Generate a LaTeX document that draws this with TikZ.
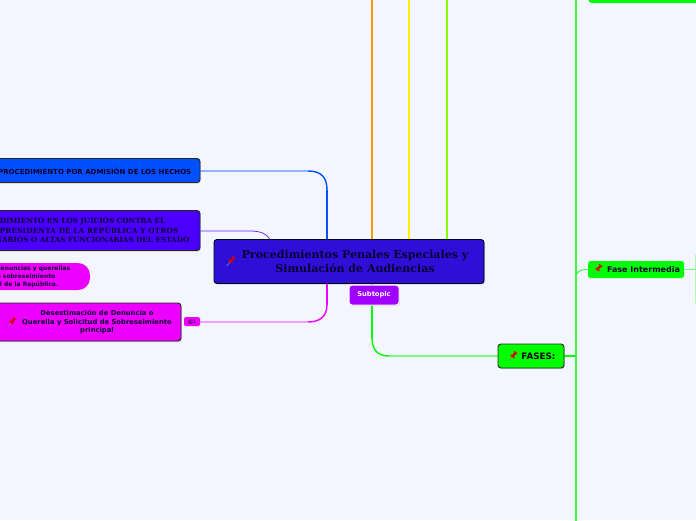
\documentclass[tikz,border=0pt]{standalone}
\usepackage{fontspec}
\setmainfont{DejaVu Serif}
\newfontfamily\vb{DejaVu Sans}
\usetikzlibrary{shadows,backgrounds}
\definecolor{bgc}{HTML}{F3F6FF}
\definecolor{mainc}{HTML}{2F0FD8}
\definecolor{admc}{HTML}{0050FF}
\definecolor{juic}{HTML}{4B00FF}
\definecolor{magc}{HTML}{EE00FF}
\definecolor{grn}{HTML}{00FF00}
\definecolor{subc}{HTML}{A000FF}
\definecolor{ink}{HTML}{0C0030}
\definecolor{orangec}{HTML}{FF9900}
\definecolor{limec}{HTML}{88FF00}
\tikzset{
  x=1pt,y=-1pt,
  box/.style={rectangle,rounded corners=3pt,inner sep=0pt,align=center,text=ink,
    draw=black!85,line width=0.9pt,drop shadow={shadow xshift=0.8pt,shadow yshift=-1pt,opacity=.35}},
  plain/.style={rectangle,inner sep=0pt,align=center,draw=none},
  trunk/.style={line width=2.3pt},
  curved/.style={line width=1.4pt},
  pale/.style={line width=1.1pt},
  pin/.pic={
    \begin{scope}[rotate=-40,scale=1.05]
    \draw[gray,line width=0.6pt] (0,0) -- (0,5);
    \fill[red!90!black] (-1.9,-6) rectangle (1.9,-4.8);
    \fill[red!80!black] (-1.1,-4.8) rectangle (1.1,-1.2);
    \fill[red!90!black] (-3,-1.2) -- (3,-1.2) -- (1.6,0) -- (-1.6,0) -- cycle;
    \end{scope}
  }
}
\begin{document}
\begin{tikzpicture}
\useasboundingbox (0,0) rectangle (696,520);
\clip (0,0) rectangle (696,520);

% free ends
\coordinate (topO) at (372,-2);
\coordinate (topY) at (409,-2);
\coordinate (topL) at (447,-2);
\coordinate (spineT) at (576,-2);
\coordinate (spineB) at (576,522);

% nodes
\node[box,fill=mainc,draw=black,minimum width=270pt,minimum height=44pt,font=\bfseries\fontsize{11}{14}\selectfont] (main) at (349,261.5)
  {\hspace*{12pt}Procedimientos Penales Especiales y\\\hspace*{12pt}Simulación de Audiencias};
\node[box,fill=admc,minimum width=240pt,minimum height=24pt] (adm) at (80,170.5) {};
\node[plain,anchor=east,font=\vb\bfseries\fontsize{7}{9}\selectfont,text=ink] (admt) at (191.5,171) {PROCEDIMIENTO POR ADMISIÓN DE LOS HECHOS};
\node[box,fill=juic,minimum width=240pt,minimum height=40pt] (jui) at (80,230.5) {};
\node[plain,anchor=east,align=right,font=\bfseries\fontsize{7.2}{9.6}\selectfont,text=ink] (juit) at (189.5,230.5)
  {PROCEDIMIENTO EN LOS JUICIOS CONTRA EL\rule{24pt}{0pt}\\{\addfontfeature{LetterSpace=3}PRESIDENTE O PRESIDENTA DE LA REPÚBLICA Y OTROS}\rule{11pt}{0pt}\\FUNCIONARIOS O ALTAS FUNCIONARIAS DEL ESTADO};
\node[plain,fill=magc,rounded corners=12pt,minimum width=130pt,minimum height=27pt] (pill) at (25,276.5) {};
\node[plain,anchor=east,align=right,font=\vb\bfseries\fontsize{6}{7.9}\selectfont,text=ink] (pillt) at (70.5,276.5)
  {Desestimación de denuncias y querellas\\de sobreseimiento\rule{15pt}{0pt}\\General de la República.\rule{12pt}{0pt}};
\node[box,fill=magc,minimum width=184pt,minimum height=38pt] (des) at (89,322) {};
\node[plain,font=\vb\bfseries\fontsize{6.8}{8.8}\selectfont,text=ink] (dest) at (97,322)
  {Desestimación de Denuncia o\\Querella y Solicitud de Sobreseimiento\\principal};
\node[plain,fill=magc,rounded corners=1.5pt,minimum width=16pt,minimum height=9pt,font=\vb\fontsize{5}{6}\selectfont,text=ink] (cnt) at (192,321.5) {▥1};
\node[box,fill=subc,draw=white,line width=1pt,minimum width=50pt,minimum height=20pt,text=white,font=\vb\bfseries\fontsize{6.7}{8}\selectfont] (sub) at (374,295) {Subtopic};
\node[box,fill=grn,minimum width=66pt,minimum height=24pt,font=\vb\bfseries\fontsize{8.8}{10}\selectfont,text=black] (fases) at (531,356) {\hspace*{15pt}FASES:};
\node[plain,fill=grn,rounded corners=2.5pt,minimum width=96pt,minimum height=17pt,font=\vb\bfseries\fontsize{8}{10}\selectfont,text=ink] (fint) at (636,269.5) {\hspace*{15pt}Fase Intermedia};
\node[plain,fill=grn,rounded corners=4pt,minimum width=120pt,minimum height=20pt] (toprt) at (648,-7) {};
\node[plain,fill=grn!30!bgc,rounded corners=3pt,minimum width=20pt,minimum height=52pt] (nextb) at (705,279) {};

\pic at (230,262) {pin};
\pic at (11,323) {pin};
\pic at (512,357) {pin};
\pic at (597,270) {pin};

% connectors, under the nodes
\begin{scope}[on background layer]
\fill[bgc] (0,0) rectangle (696,520);
% top trunks
\draw[trunk,orangec] (topO) -- (main.north -| topO);
\draw[trunk,yellow] (topY) -- (main.north -| topY);
\draw[trunk,limec] (topL) -- (main.north -| topL);
% admission (blue)
\coordinate (admA) at (308,171);
\draw[pale,admc!40!bgc] (adm.east |- admA) -- (admA);
\draw[curved,admc] (admA) .. controls (321,171) and (327,177) .. (327,190);
\draw[trunk,admc] (327,190) -- (main.north -| 327,0);
% juicios (purple)
\coordinate (juiA) at (250,231);
\draw[pale,juic!30!bgc] (jui.east |- juiA) -- (juiA);
\draw[line width=0.8pt,juic!80!bgc] (juiA) .. controls (261,231) and (267,234) .. (270,239.5);
% magenta
\coordinate (magA) at (308,322);
\draw[trunk,magc] (main.south -| 327,0) -- (327,305);
\draw[curved,magc] (327,305) .. controls (327,316) and (320,322) .. (magA);
\draw[pale,magc!35!bgc] (magA) -- (cnt.east |- magA);
% fases (green)
\coordinate (fasA) at (389,356);
\draw[trunk,grn] (main.south -| 372,0) -- (372,338);
\draw[curved,grn] (372,338) .. controls (372,350) and (378,356) .. (fasA);
\draw[pale,grn!50!bgc] (fasA) -- (fases.west);
\draw[line width=1.6pt,grn] (fases.east) -- (fases.east -| spineT);
\draw[line width=1.2pt,grn!75!bgc] (spineT) -- (spineB);
% fase intermedia
\coordinate (finA) at (576,276);
\draw[line width=1pt,grn!75!bgc] (finA) .. controls (577,271) and (581,269.5) .. (fint.west);
\draw[line width=1pt,grn!50!bgc] (fint.east) -- (nextb.west |- fint.east);
\end{scope}
\end{tikzpicture}
\end{document}
